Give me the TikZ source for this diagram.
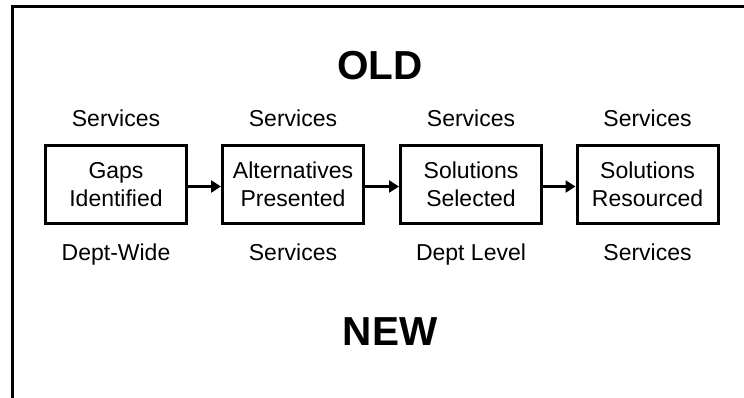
\documentclass[tikz,border=0pt]{standalone}
\usepackage{fontspec}
\setmainfont{Liberation Sans}
\usetikzlibrary{arrows.meta}
\begin{document}
\begin{tikzpicture}[x=1pt,y=-1pt,
  stepbox/.style={draw,line width=3pt,minimum width=141pt,minimum height=78pt,inner sep=0pt,align=center,font=\fontsize{23}{28.5}\selectfont},
  lbl/.style={anchor=base,inner sep=0pt,font=\fontsize{23}{28}\selectfont},
  title/.style={anchor=base,inner sep=0pt,font=\fontsize{40.5}{48}\selectfont\bfseries},
  conn/.style={line width=3.5pt,-{Triangle[length=10pt,width=12pt]}}]
\useasboundingbox (0,0) rectangle (744,397);
\coordinate (fr1) at (745,6.5);
\coordinate (fr2) at (12,6.5);
\coordinate (fr3) at (12,398);
\draw[line width=3pt] (fr1) -- (fr2) -- (fr3);
\node[title] (old) at (380,79) {OLD};
\node[title] (new) at (390,345) {NEW};
\node[stepbox] (b1) at (116,184.5) {Gaps\\Identified};
\node[stepbox] (b2) at (293,184.5) {Alternatives\\Presented};
\node[stepbox] (b3) at (471,184.5) {Solutions\\Selected};
\node[stepbox] (b4) at (647.5,184.5) {Solutions\\Resourced};
\node[lbl] (t1) at (116,126.5) {Services};
\node[lbl] (t2) at (293,126.5) {Services};
\node[lbl] (t3) at (471,126.5) {Services};
\node[lbl] (t4) at (647.5,126.5) {Services};
\node[lbl] (u1) at (116,260) {Dept-Wide};
\node[lbl] (u2) at (293,260) {Services};
\node[lbl] (u3) at (471,260) {Dept Level};
\node[lbl] (u4) at (647.5,260) {Services};
\draw[conn] ([yshift=-2pt]b1.east) -- ([yshift=-2pt]b2.west);
\draw[conn] ([yshift=-2pt]b2.east) -- ([yshift=-2pt]b3.west);
\draw[conn] ([yshift=-2pt]b3.east) -- ([yshift=-2pt]b4.west);
\end{tikzpicture}
\end{document}
